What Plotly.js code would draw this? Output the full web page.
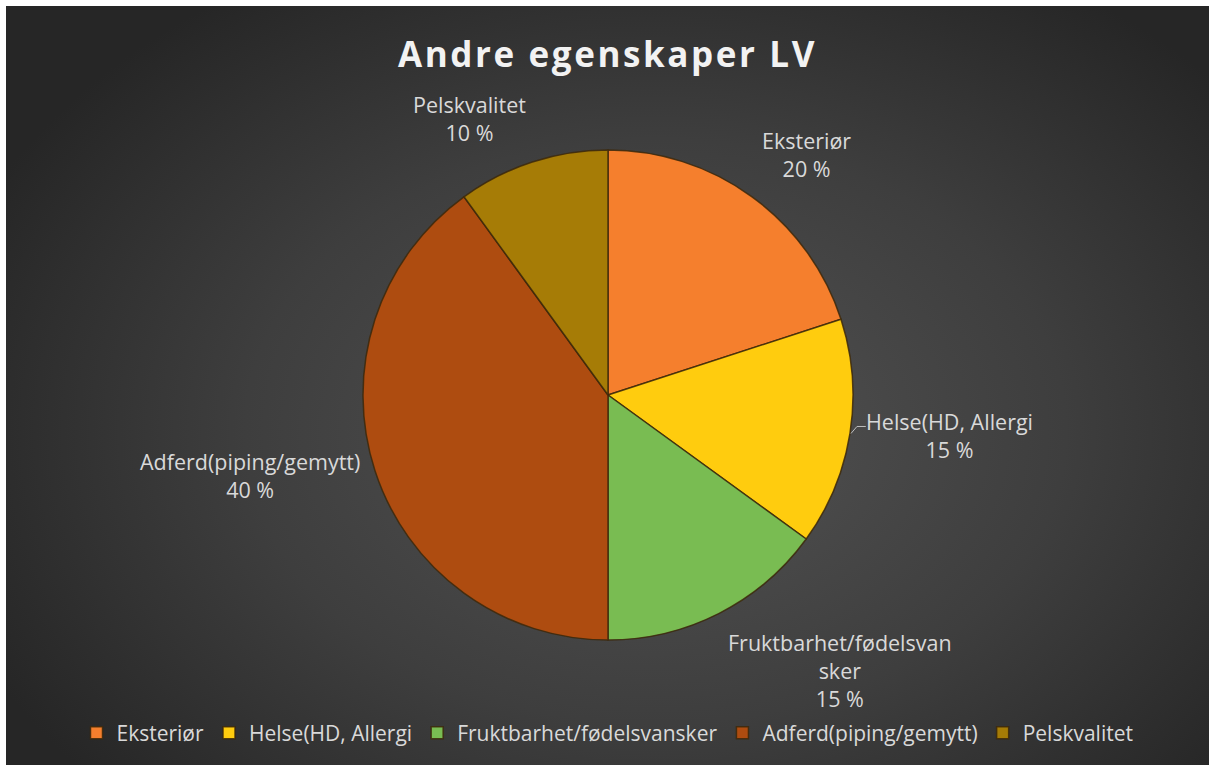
<!DOCTYPE html>
<html>
<head>
<meta charset="utf-8">
<script src="https://cdn.plot.ly/plotly-3.0.1.min.js"></script>
<style>
  html, body { margin: 0; padding: 0; background: #ffffff; width: 1209px; height: 767px; overflow: hidden; }
  #chart {
    position: absolute; left: 6px; top: 6px; width: 1203px; height: 759px;
    background: radial-gradient(ellipse 62% 70% at 54% 56%, #535353 0%, #3e3e3e 55%, #262626 100%);
  }
  #chart .gtitle { letter-spacing: 2.6px; }
</style>
</head>
<body>
<div id="chart"></div>
<script>
// ---- data ----
const categories = ["Eksteriør", "Helse(HD, Allergi", "Fruktbarhet/fødelsvansker", "Adferd(piping/gemytt)", "Pelskvalitet"];
const values = [20, 15, 15, 40, 10];
const colors = ["#F57F2D", "#FFCC0E", "#79BC52", "#AE4C10", "#A67C06"];
const leaderLine = [false, true, false, false, false];
const chartTitle = "Andre egenskaper LV";

// ---- layout geometry ----
const W = 1203, H = 759;
const R = 245;               // pie radius, px
const cxPx = 602, cyPx = 389; // pie centre within the div, px
const dom = {
  x: [(cxPx - R) / W, (cxPx + R) / W],
  y: [(H - cyPx - R) / H, (H - cyPx + R) / H]
};
const cx = (dom.x[0] + dom.x[1]) / 2;
const cy = (dom.y[0] + dom.y[1]) / 2;
const labelGap = 14;
const fontFam = "'Open Sans', 'Noto Sans', sans-serif";
const labelColor = "#D9D9D9";

function wrap(s, n) {
  if (s.length <= n) return s;
  const out = [];
  for (let i = 0; i < s.length; i += n) out.push(s.slice(i, i + n));
  return out.join("<br>");
}

const total = values.reduce((a, b) => a + b, 0);
let cum = 0;
const annotations = [];
const shapes = [];
values.forEach((v, i) => {
  const mid = (cum + v / 2) / total * 2 * Math.PI;
  cum += v;
  const s = Math.sin(mid), c = Math.cos(mid);
  const d = R + labelGap;
  const ax = cx + d * s / W, ay = cy + d * c / H;
  annotations.push({
    xref: "paper", yref: "paper",
    x: ax, y: ay,
    xanchor: s > 0.2 ? "left" : (s < -0.2 ? "right" : "center"),
    yanchor: Math.abs(c) < 0.35 ? "middle" : (c > 0 ? "bottom" : "top"),
    text: wrap(categories[i], 21) + "<br>" + Math.round(v / total * 100) + " %",
    showarrow: false,
    align: "center",
    font: { family: fontFam, size: 21.5, color: labelColor }
  });
  if (leaderLine[i]) {
    const ex = cx + (R + 1) * s / W, ey = cy + (R + 1) * c / H;
    const kx = ex + 6 / W, ky = ey + 7 / H;
    const tx = ax + 2 / W;
    shapes.push({
      type: "path", xref: "paper", yref: "paper",
      path: `M ${ex} ${ey} L ${kx} ${ky} L ${tx} ${ky}`,
      line: { color: "#BFBFBF", width: 1 }
    });
  }
});

const trace = {
  type: "pie",
  labels: categories,
  values: values,
  sort: false,
  direction: "clockwise",
  rotation: 0,
  textinfo: "none",
  hoverinfo: "label+percent",
  domain: dom,
  marker: { colors: colors, line: { color: "rgba(60,40,10,0.85)", width: 1.5 } }
};

const layout = {
  width: W, height: H,
  margin: { l: 0, r: 0, t: 0, b: 0 },
  paper_bgcolor: "rgba(0,0,0,0)",
  plot_bgcolor: "rgba(0,0,0,0)",
  title: {
    text: chartTitle,
    x: 0.5, xanchor: "center",
    y: 1 - 49 / H, yanchor: "middle",
    yref: "paper",
    font: { family: fontFam, size: 35, color: "#F2F2F2", weight: "bold" }
  },
  showlegend: true,
  legend: {
    orientation: "h",
    x: 0.5, xanchor: "center",
    y: 1 - 727 / H, yanchor: "middle",
    font: { family: fontFam, size: 21, color: labelColor },
    bgcolor: "rgba(0,0,0,0)",
    traceorder: "normal"
  },
  annotations: annotations,
  shapes: shapes
};

Plotly.newPlot("chart", [trace], layout, { displayModeBar: false, staticPlot: true });
</script>
</body>
</html>
